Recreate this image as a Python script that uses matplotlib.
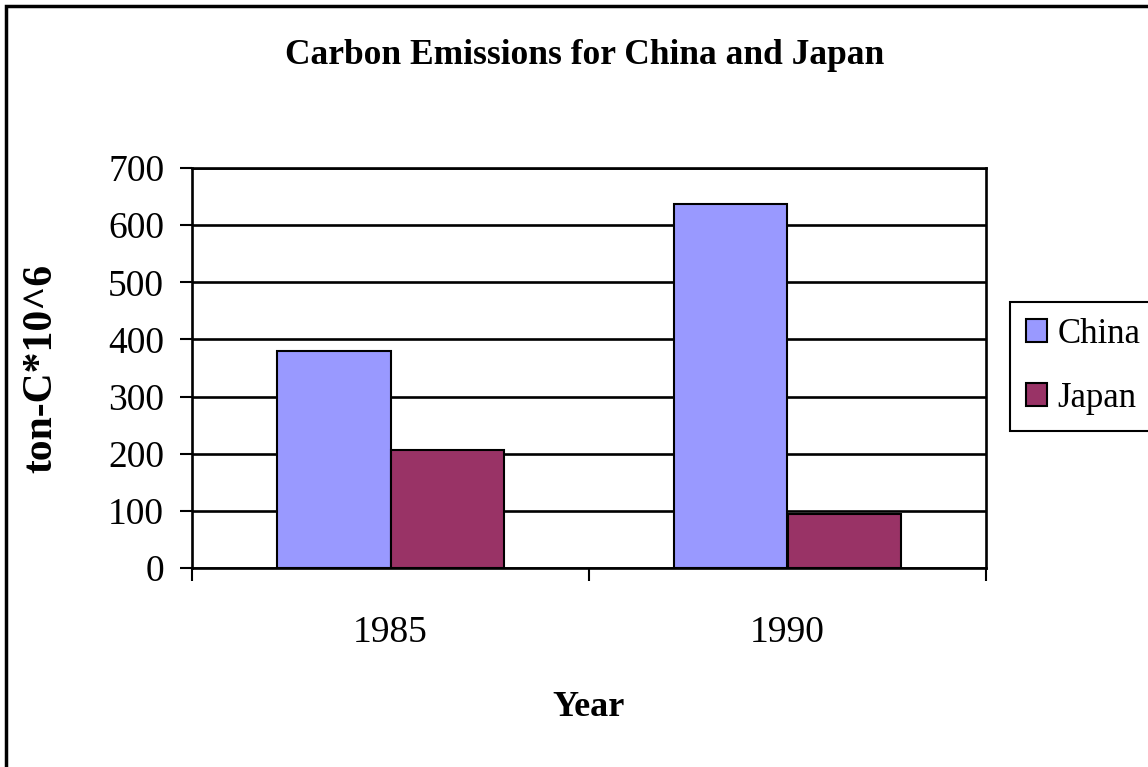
import numpy as np
import matplotlib
matplotlib.use("Agg")
from matplotlib import pyplot as plt
from matplotlib.patches import Rectangle

# data
years = ["1985", "1990"]
china = [380, 637]
japan = [206, 95]
series_names = ["China", "Japan"]
series_colors = ["#9999FF", "#993366"]
y_ticks = [0, 100, 200, 300, 400, 500, 600, 700]

plt.rcParams['font.family'] = ['Liberation Serif', 'DejaVu Serif']

fig = plt.figure(figsize = (11.48, 7.67), dpi = 100)
ax = fig.add_axes([192 / 1148, 1 - 568 / 767, 794 / 1148, 400 / 767])

x = np.arange(len(years))
w = 1 / 3.5
for i, (vals, name, col) in enumerate(zip([china, japan], series_names, series_colors)):
	ax.bar(x + (i - 0.5) * w, vals, width = w, color = col, edgecolor = 'black',
		linewidth = 1.5, label = name, zorder = 3)

ax.set_xlim(-0.5, len(years) - 0.5)
ax.set_ylim(0, 700)
ax.set_yticks(y_ticks)
ax.set_yticklabels([str(v) for v in y_ticks])
ax.yaxis.grid(True, color = 'black', linewidth = 1.9, zorder = 1)
ax.set_axisbelow(True)

ax.set_xticks(x)
ax.set_xticklabels(years)
ax.set_xticks(np.arange(-0.5, len(years)), minor = True)
ax.tick_params(axis = 'x', which = 'major', length = 0, pad = 34, labelsize = 27)
ax.tick_params(axis = 'x', which = 'minor', length = 9, width = 1.5, direction = 'out')
ax.tick_params(axis = 'y', length = 9, width = 1.5, direction = 'out', pad = 11, labelsize = 27)

for s in ax.spines.values():
	s.set_linewidth(1.9)
	s.set_color('black')

ax.set_xlabel("Year", fontsize = 26, fontweight = 'bold', va = 'center')
ax.xaxis.set_label_coords(0.5, -0.35)
ax.set_ylabel("ton-C*10^6", fontsize = 30, fontweight = 'bold', va = 'center')
ax.yaxis.set_label_coords(-0.19, 0.5)

fig.text(584.5 / 1148, 1 - 56 / 767, "Carbon Emissions for China and Japan",
	fontsize = 25.5, fontweight = 'bold', ha = 'center', va = 'center')

leg = fig.legend(loc = 'upper left', bbox_to_anchor = (1010 / 1148, 1 - 302 / 767),
	fontsize = 25, fancybox = False, shadow = False, framealpha = 1,
	edgecolor = 'black', handlelength = 0.62, handleheight = 0.62,
	handletextpad = 0.3, labelspacing = 0.9, borderpad = 0.45, borderaxespad = 0)
leg.get_frame().set_linewidth(1.5)

# outer chart border
fig.patches.append(Rectangle((6 / 1148, -0.1), 1.2, 1 - 6 / 767 + 0.1,
	transform = fig.transFigure, fill = False, edgecolor = 'black', linewidth = 2.5))

fig.savefig('out.png', dpi = 100)
